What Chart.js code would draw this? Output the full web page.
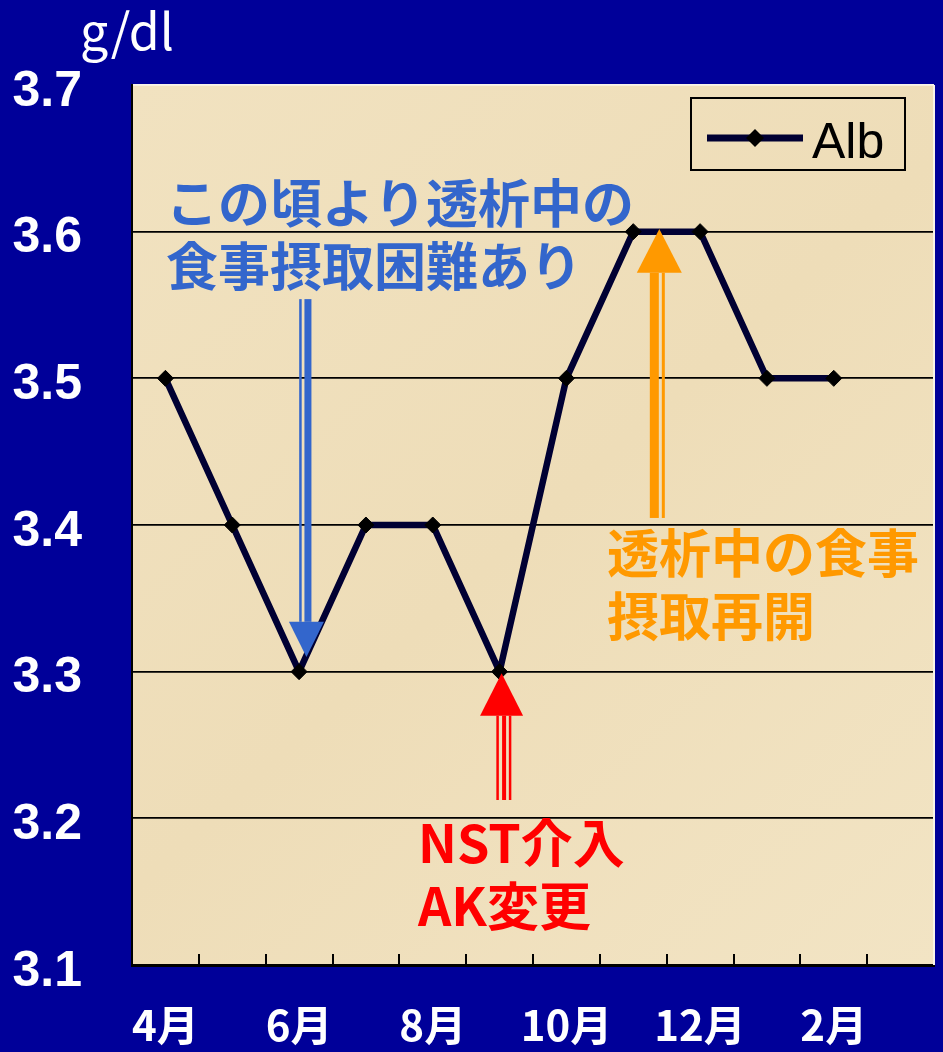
<!DOCTYPE html>
<html>
<head>
<meta charset="utf-8">
<script src="https://cdn.jsdelivr.net/npm/chart.js@4.4.0/dist/chart.umd.min.js"></script>
<style>
  html, body { margin: 0; padding: 0; background: #000099; }
  #wrap { width: 943px; height: 1052px; position: relative; }
</style>
</head>
<body>
<div id="wrap"><canvas id="albChart"></canvas></div>
<script>
// データ
const months = ['4月', '5月', '6月', '7月', '8月', '9月', '10月', '11月', '12月', '1月', '2月', '3月'];
const albValues = [3.5, 3.4, 3.3, 3.4, 3.4, 3.3, 3.5, 3.6, 3.6, 3.5, 3.5, null];
const yTicks = [3.1, 3.2, 3.3, 3.4, 3.5, 3.6, 3.7];
const seriesName = 'Alb';
const unitLabel = 'g/dl';

const JP = '"Noto Sans CJK JP", "Noto Sans", sans-serif';
const LINE_COLOR = '#000033';

// 注釈 (テキストと矢印)
const notes = [
    { lines: ['この頃より透析中の', '食事摂取困難あり'], x: 166, y: 203, color: '#3366CC' },
    { lines: ['透析中の食事', '摂取再開'], x: 607, y: 553, color: '#FF9900' },
    { lines: ['NST介入', 'AK変更'], x: 418, y: 843, color: '#FF0000' }
];
// 矢印: i = カテゴリ位置, tip/base/tail = 値 (g/dl)
const arrows = [
    { i: 2.11, tip: 3.310, base: 3.334, tail: 3.554, half: 17.5, color: '#3366CC', shafts: [[-6, 2.5], [1.5, 7]] },
    { i: 5.03, tip: 3.299, base: 3.270, tail: 3.2125, half: 21.5, color: '#FF0000', shafts: [[-4, 2.5], [2.5, 4], [8.5, 2.5]] },
    { i: 7.39, tip: 3.6018, base: 3.572, tail: 3.4048, half: 22.5, color: '#FF9900', shafts: [[-5, 9], [4, 3]] }
];

const plotBackground = {
    id: 'plotBackground',
    beforeDraw(chart) {
        const { ctx, chartArea: a } = chart;
        ctx.save();
        const g = ctx.createLinearGradient(a.left, a.top, a.right, a.bottom);
        g.addColorStop(0, '#F1E2C0');
        g.addColorStop(0.5, '#EEDDB8');
        g.addColorStop(1, '#F2E4C4');
        ctx.fillStyle = g;
        ctx.fillRect(a.left, a.top, a.right - a.left, a.bottom - a.top);
        ctx.restore();
    },
    afterDraw(chart) {
        const { ctx, chartArea: a } = chart;
        ctx.save();
        ctx.strokeStyle = '#F8F4EA';
        ctx.lineWidth = 2;
        ctx.beginPath();
        ctx.moveTo(a.right, a.top);
        ctx.lineTo(a.right, a.bottom);
        ctx.stroke();
        // 単位
        ctx.fillStyle = '#FFFFFF';
        ctx.font = '50px ' + JP;
        ctx.textBaseline = 'alphabetic';
        ctx.fillText(unitLabel, 80, 50);
        ctx.restore();
    }
};

const annotations = {
    id: 'annotations',
    afterDatasetsDraw(chart) {
        const { ctx } = chart;
        const xs = chart.scales.x, ys = chart.scales.y;
        ctx.save();
        arrows.forEach(ar => {
            const x = xs.getPixelForValue(ar.i);
            const tipY = ys.getPixelForValue(ar.tip);
            const baseY = ys.getPixelForValue(ar.base);
            const tailY = ys.getPixelForValue(ar.tail);
            ctx.fillStyle = ar.color;
            ar.shafts.forEach(([dx, w]) => {
                ctx.fillRect(x + dx - w / 2, Math.min(baseY, tailY), w, Math.abs(tailY - baseY));
            });
            ctx.beginPath();
            ctx.moveTo(x, tipY);
            ctx.lineTo(x - ar.half, baseY);
            ctx.lineTo(x + ar.half, baseY);
            ctx.closePath();
            ctx.fill();
        });
        ctx.font = 'bold 52px ' + JP;
        ctx.textBaseline = 'middle';
        notes.forEach(n => {
            ctx.fillStyle = n.color;
            n.lines.forEach((t, k) => ctx.fillText(t, n.x, n.y + k * 63));
        });

        // 凡例
        const ds = chart.data.datasets[0];
        ctx.strokeStyle = '#000000';
        ctx.lineWidth = 2;
        ctx.strokeRect(691, 98, 214, 72);
        ctx.strokeStyle = ds.borderColor;
        ctx.lineWidth = 7;
        ctx.beginPath();
        ctx.moveTo(707, 138);
        ctx.lineTo(803, 138);
        ctx.stroke();
        ctx.fillStyle = '#000000';
        ctx.beginPath();
        ctx.moveTo(755, 129); ctx.lineTo(764, 138); ctx.lineTo(755, 147); ctx.lineTo(746, 138);
        ctx.closePath();
        ctx.fill();
        ctx.font = '50px "Liberation Sans", Arial, sans-serif';
        ctx.textBaseline = 'alphabetic';
        ctx.fillText(ds.label, 812, 158);
        ctx.restore();
    }
};

new Chart(document.getElementById('albChart'), {
    type: 'line',
    data: {
        labels: months,
        datasets: [{
            label: seriesName,
            data: albValues,
            borderColor: LINE_COLOR,
            borderWidth: 6.5,
            tension: 0,
            pointStyle: 'rectRot',
            pointRadius: 8,
            pointBackgroundColor: '#000000',
            pointBorderColor: '#000000',
            pointBorderWidth: 1
        }]
    },
    options: {
        responsive: true,
        maintainAspectRatio: false,
        animation: false,
        layout: { padding: { top: 85, right: 6, left: 0, bottom: 0 } },
        plugins: { legend: { display: false }, tooltip: { enabled: false } },
        scales: {
            x: {
                offset: true,
                grid: { offset: true, drawOnChartArea: false, color: '#000000', lineWidth: 2, tickLength: -11 },
                border: { color: '#000000', width: 3 },
                ticks: {
                    autoSkip: false,
                    maxRotation: 0,
                    padding: 46,
                    color: '#FFFFFF',
                    font: { family: JP, size: 42, weight: 'bold' },
                    callback: (v, i) => i % 2 === 0 ? months[i] : ''
                },
                afterFit: s => { s.height = 87; s.paddingLeft = 0; s.paddingRight = 0; }
            },
            y: {
                min: 3.1,
                max: 3.7,
                afterBuildTicks: s => { s.ticks = yTicks.map(v => ({ value: v })); },
                grid: {
                    drawTicks: false,
                    lineWidth: 1.8,
                    color: c => Math.abs(c.tick.value - 3.7) < 1e-6 ? '#F8F4EA' : '#000000'
                },
                border: { color: '#000000', width: 2 },
                ticks: {
                    padding: 50,
                    labelOffset: 7,
                    color: '#FFFFFF',
                    font: { family: '"Liberation Sans", Arial, sans-serif', size: 50, weight: 'bold' },
                    callback: v => v.toFixed(1)
                },
                afterFit: s => { s.width = 132; }
            }
        }
    },
    plugins: [plotBackground, annotations]
});
</script>
</body>
</html>
